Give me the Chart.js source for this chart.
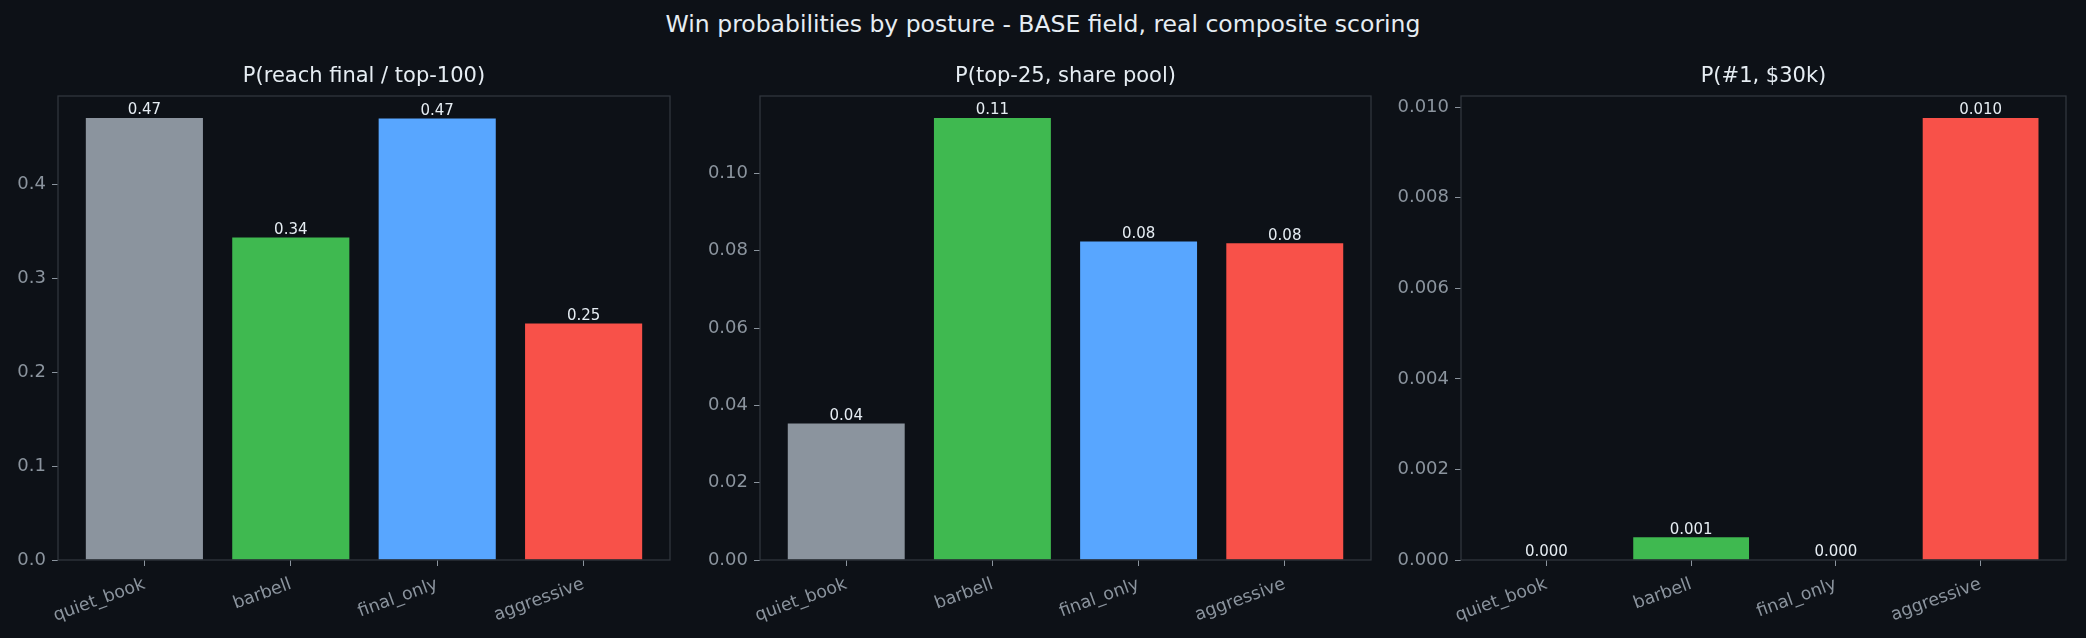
<!DOCTYPE html>
<html>
<head>
<meta charset="utf-8">
<script src="https://cdn.jsdelivr.net/npm/chart.js@4.4.0/dist/chart.umd.min.js"></script>
<style>
  html, body { margin: 0; padding: 0; background: #0d1117; }
  #figura { position: relative; width: 2086px; height: 638px; overflow: hidden; font-family: 'DejaVu Sans', sans-serif; }
  #supertitulo { position: absolute; left: 0; top: 0; width: 2086px; height: 48px; line-height: 48px; text-align: center; color: #e6edf3; font-size: 23.5px; }
  .panel { position: absolute; top: 50px; }
</style>
</head>
<body>
<div id="figura">
  <div id="supertitulo">Win probabilities by posture - BASE field, real composite scoring</div>
  <canvas id="graficoFinal" class="panel" width="680" height="588" style="left:0px"></canvas>
  <canvas id="graficoTop25" class="panel" width="711" height="588" style="left:670px"></canvas>
  <canvas id="graficoPrimero" class="panel" width="705" height="588" style="left:1371px"></canvas>
</div>
<script>
// datos
const posturas = ['quiet_book', 'barbell', 'final_only', 'aggressive'];
const coloresPostura = ['#8b949e', '#3fb950', '#58a6ff', '#f85149'];

const probFinal = [0.4705, 0.3435, 0.4700, 0.2517];
const probTop25 = [0.0353, 0.1143, 0.0824, 0.0819];
const probPrimero = [0.0000, 0.0005, 0.0000, 0.00976];

const ticksFinal = [0.0, 0.1, 0.2, 0.3, 0.4];
const ticksTop25 = [0.00, 0.02, 0.04, 0.06, 0.08, 0.10];
const ticksPrimero = [0.000, 0.002, 0.004, 0.006, 0.008, 0.010];

const colorTexto = '#e6edf3';
const colorEjes = '#8b949e';
const colorMarco = '#30363d';

// marco completo alrededor del area del grafico
const marco = {
    id: 'marco',
    afterDatasetsDraw(chart) {
        const a = chart.chartArea;
        const ctx = chart.ctx;
        ctx.save();
        ctx.strokeStyle = colorMarco;
        ctx.lineWidth = 1.3;
        ctx.strokeRect(a.left, a.top, a.right - a.left, a.bottom - a.top);
        ctx.restore();
    }
};

// etiquetas con el valor arriba de cada barra
const etiquetasValores = {
    id: 'etiquetasValores',
    afterDatasetsDraw(chart, args, opts) {
        const ctx = chart.ctx;
        const meta = chart.getDatasetMeta(0);
        ctx.save();
        ctx.font = '15px "DejaVu Sans"';
        ctx.fillStyle = colorTexto;
        ctx.textAlign = 'center';
        ctx.textBaseline = 'bottom';
        meta.data.forEach((barra, i) => {
            const v = chart.data.datasets[0].data[i].y;
            ctx.fillText(v.toFixed(opts.decimales), barra.x, barra.y);
        });
        ctx.restore();
    }
};

function crearGrafico(idCanvas, titulo, valores, ticksY, decY, decEtiqueta, anchoEjeY) {
    const ctx = document.getElementById(idCanvas).getContext('2d');
    const maximo = Math.max(...valores) * 1.05; // margen como matplotlib

    return new Chart(ctx, {
        type: 'bar',
        data: {
            datasets: [{
                data: posturas.map((p, i) => ({ x: i, y: valores[i] })),
                backgroundColor: coloresPostura,
                borderWidth: 0,
                barPercentage: 0.8,
                categoryPercentage: 1.0
            }]
        },
        plugins: [marco, etiquetasValores],
        options: {
            responsive: false,
            animation: false,
            layout: { padding: { left: 0, right: 10, top: 0, bottom: 0 } },
            plugins: {
                legend: { display: false },
                tooltip: { enabled: false },
                title: {
                    display: true,
                    text: titulo,
                    color: colorTexto,
                    fullSize: false,
                    font: { family: 'DejaVu Sans', size: 21, weight: 'normal' },
                    padding: { top: 14.4, bottom: 6.4 }
                },
                etiquetasValores: { decimales: decEtiqueta }
            },
            scales: {
                x: {
                    type: 'linear',
                    min: -0.59,
                    max: 3.59,
                    offset: false,
                    afterBuildTicks: axis => {
                        axis.ticks = posturas.map((p, i) => ({ value: i }));
                    },
                    afterFit: axis => { axis.height = 78; },
                    grid: { display: true, offset: false, drawOnChartArea: false, drawTicks: true, tickLength: 6, color: colorEjes },
                    border: { display: false },
                    ticks: {
                        autoSkip: false,
                        minRotation: 20,
                        maxRotation: 20,
                        padding: 8,
                        color: colorEjes,
                        font: { family: 'DejaVu Sans', size: 17.5 },
                        callback: v => posturas[v]
                    }
                },
                y: {
                    min: 0,
                    max: maximo,
                    afterBuildTicks: axis => {
                        axis.ticks = ticksY.map(v => ({ value: v }));
                    },
                    afterFit: axis => { axis.width = anchoEjeY; },
                    grid: { display: true, drawOnChartArea: false, drawTicks: true, tickLength: 6, color: colorEjes },
                    border: { display: false },
                    ticks: {
                        padding: 6,
                        color: colorEjes,
                        font: { family: 'DejaVu Sans', size: 18 },
                        callback: v => v.toFixed(decY)
                    }
                }
            }
        }
    });
}

crearGrafico('graficoFinal', 'P(reach final / top-100)', probFinal, ticksFinal, 1, 2, 58);
crearGrafico('graficoTop25', 'P(top-25, share pool)', probTop25, ticksTop25, 2, 2, 90);
crearGrafico('graficoPrimero', 'P(#1, $30k)', probPrimero, ticksPrimero, 3, 3, 90);
</script>
</body>
</html>
